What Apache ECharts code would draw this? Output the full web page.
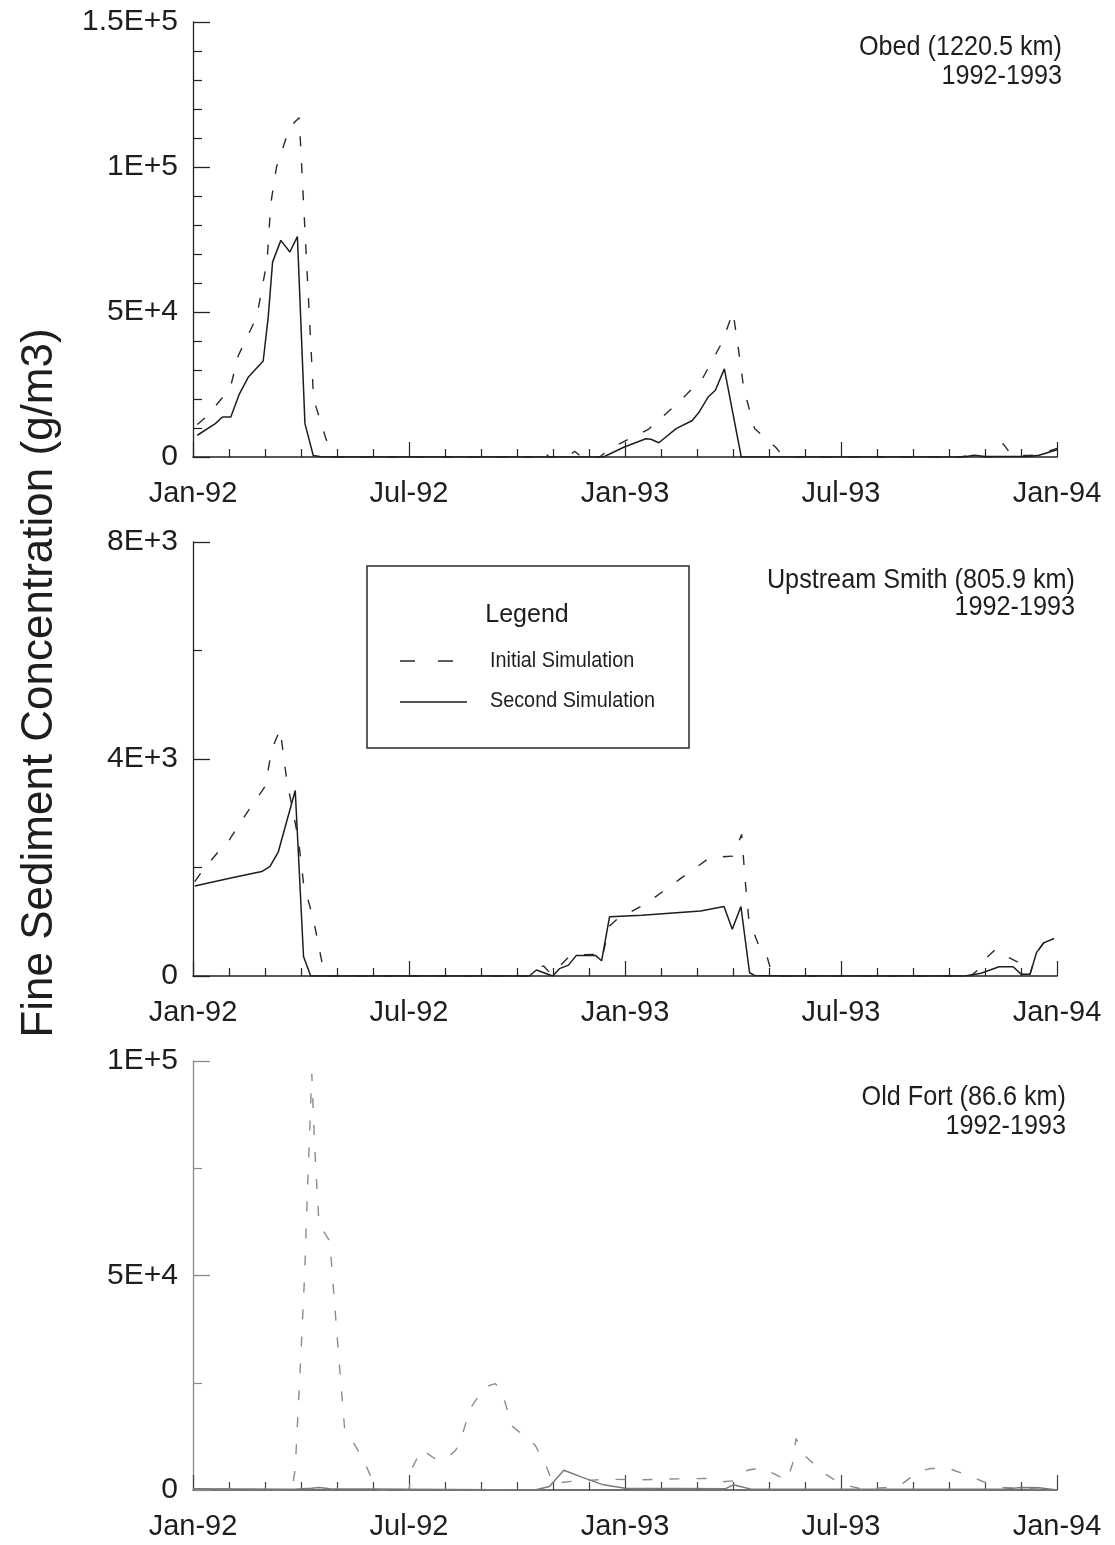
<!DOCTYPE html>
<html>
<head>
<meta charset="utf-8">
<script src="https://cdn.jsdelivr.net/npm/echarts@6/dist/echarts.min.js"></script>
<style>
html,body{margin:0;padding:0;background:#fff;}
#chart{width:1115px;height:1545px;}
</style>
</head>
<body>
<div id="chart"></div>
<script>
// x values are months since Jan-92 (0 = Jan-92, 24 = Jan-94)
var xTickValues = [0, 6, 12, 18, 24];
var xTickLabels = ['Jan-92', 'Jul-92', 'Jan-93', 'Jul-93', 'Jan-94'];

var obedYTicks = [0, 50000, 100000, 150000];
var obedYLabels = ['0', '5E+4', '1E+5', '1.5E+5'];
var smithYTicks = [0, 4000, 8000];
var smithYLabels = ['0', '4E+3', '8E+3'];
var fortYTicks = [0, 50000, 100000];
var fortYLabels = ['0', '5E+4', '1E+5'];

var seriesNames = ['Initial Simulation', 'Second Simulation'];
var panelTitles = ['Obed (1220.5 km)', 'Upstream Smith (805.9 km)', 'Old Fort (86.6 km)'];
var panelPeriod = '1992-1993';

// Obed (1220.5 km)
var obedInitial = [[0.12,11200],[0.38,14000],[1.03,23600],[1.26,35000],[1.77,48300],[2.06,67800],[2.16,87300],[2.32,100000],[2.69,113800],[2.95,117000],[3.35,20000],[3.7,6000],[3.95,0],[9.5,0],[9.7,2000],[9.9,0],[10.4,0],[10.6,2000],[10.8,0],[11.3,0],[11.6,3100],[11.95,5200],[12.65,9500],[13.45,18400],[14.15,27000],[14.7,39600],[15.0,50000],[15.15,37300],[15.3,23500],[15.6,9800],[16.2,3200],[16.4,0],[21.3,0],[21.6,600],[22.0,0],[22.3,0],[22.5,4600],[22.75,500],[23.2,500],[23.5,800],[24,3000]];
var obedSecond = [[0.12,7500],[0.62,11500],[0.82,13800],[1.05,13800],[1.29,21800],[1.54,27600],[1.95,33100],[2.09,48300],[2.21,67200],[2.44,74700],[2.69,70700],[2.9,76000],[3.11,11500],[3.34,500],[3.6,0],[11.4,0],[11.98,3450],[12.58,6300],[12.72,6100],[12.94,4900],[13.42,9800],[13.87,12600],[14.06,15500],[14.31,20700],[14.51,23000],[14.76,30400],[15.23,0],[21.4,0],[21.7,600],[22.0,200],[23.2,200],[23.5,600],[24,2500]];

// Upstream Smith (805.9 km)
var smithInitial = [[0.05,1740],[0.28,1955],[0.74,2320],[0.98,2480],[1.4,2910],[1.58,3090],[2.0,3490],[2.19,4170],[2.42,4550],[2.6,3630],[2.93,2510],[3.07,1710],[3.35,1030],[3.58,260],[3.72,0],[9.3,0],[9.44,110],[9.74,185],[9.95,30],[10.28,245],[10.48,380],[11.18,400],[11.35,300],[11.57,920],[11.77,1040],[12.62,1350],[13.51,1780],[14.35,2180],[14.99,2210],[15.24,2610],[15.34,1750],[15.44,1040],[15.79,430],[15.94,370],[16.1,0],[21.6,0],[21.8,110],[21.95,280],[22.29,490],[22.39,430],[22.93,250],[23.13,60],[23.25,30],[23.43,430],[23.63,610],[23.92,690]];
var smithSecond = [[0.05,1660],[1.02,1800],[1.91,1925],[2.14,2020],[2.37,2290],[2.84,3420],[3.07,360],[3.27,0],[9.34,0],[9.54,110],[9.99,0],[10.18,135],[10.43,200],[10.65,380],[11.18,380],[11.35,280],[11.57,1090],[12.47,1120],[14.1,1200],[14.75,1280],[14.98,860],[15.22,1280],[15.46,60],[15.6,10],[16.5,0],[21.44,0],[21.89,50],[22.39,170],[22.78,170],[23.01,30],[23.25,30],[23.43,430],[23.63,610],[23.92,690]];

// Old Fort (86.6 km)
var fortInitial = [[0,300],[2.75,0],[2.84,5000],[3.0,32000],[3.1,50000],[3.18,70000],[3.3,97000],[3.38,80000],[3.5,62000],[3.8,58000],[4.03,33000],[4.21,14500],[4.74,7000],[5.1,0],[6.0,0],[6.08,5000],[6.35,9500],[6.7,7400],[7.0,7000],[7.3,9300],[7.45,12000],[7.7,19000],[8.1,24000],[8.4,24800],[8.6,22500],[8.85,15000],[9.5,10500],[9.8,5800],[10.0,1500],[10.5,2000],[11.5,2500],[12.5,2400],[13.5,2600],[14.3,2700],[14.7,1900],[15.1,2200],[15.4,4600],[15.8,5200],[16.2,3500],[16.5,2200],[16.65,6000],[16.75,12000],[17.0,8000],[17.5,4000],[17.8,2500],[18.2,1000],[18.6,200],[19.6,800],[19.9,2700],[20.1,4300],[20.5,5000],[21.0,5000],[21.5,3500],[22.0,1800],[22.5,600],[23.5,200],[24,0]];
var fortSecond = [[0,300],[2.8,200],[3.3,400],[3.5,600],[3.8,300],[9.5,0],[9.9,800],[10.3,4600],[10.8,3000],[11.4,1200],[12.0,400],[14.8,300],[15.0,1200],[15.2,800],[15.5,200],[22.5,200],[23.0,600],[23.5,500],[24,0]];

var FONT = '"Liberation Sans", Arial, sans-serif';
var INK = '#1e1e1e';

function lookup(values, labels) {
  return function (v) {
    for (var i = 0; i < values.length; i++) {
      if (Math.abs(values[i] - v) < 1e-6) return labels[i];
    }
    return '';
  };
}

var grids = [
  {left: 193, top: 22, width: 864, height: 435},
  {left: 193, top: 542, width: 864, height: 434},
  {left: 193, top: 1061, width: 864, height: 429}
];

function makeX(i, color) {
  return {
    type: 'value', gridIndex: i, min: 0, max: 24, interval: 6,
    axisLine: {show: true, onZero: false, lineStyle: {color: color, width: 1.6}},
    axisTick: {show: true, inside: true, length: 15, lineStyle: {color: color, width: 1.2}},
    minorTick: {show: true, splitNumber: 6, length: 8, lineStyle: {color: color, width: 1.2}},
    splitLine: {show: false}, minorSplitLine: {show: false},
    axisLabel: {formatter: lookup(xTickValues, xTickLabels), fontFamily: FONT, fontSize: 29, color: INK, margin: 22, showMinLabel: true, showMaxLabel: true}
  };
}
function makeY(i, max, interval, split, ticks, labels, color) {
  return {
    type: 'value', gridIndex: i, min: 0, max: max, interval: interval,
    axisLine: {show: true, onZero: false, lineStyle: {color: color, width: 1.3}},
    axisTick: {show: true, inside: true, length: 17, lineStyle: {color: color, width: 1.3}},
    minorTick: {show: true, splitNumber: split, length: 9, lineStyle: {color: color, width: 1.2}},
    splitLine: {show: false}, minorSplitLine: {show: false},
    axisLabel: {formatter: lookup(ticks, labels), fontFamily: FONT, fontSize: 30, color: INK, margin: 15}
  };
}

function line(name, data, i, dashed, color, width) {
  return {
    name: name, type: 'line', xAxisIndex: i, yAxisIndex: i, data: data,
    showSymbol: false, symbol: 'none', smooth: false, animation: false,
    lineStyle: {color: color, width: width, type: dashed ? [10, 17] : 'solid'},
    z: dashed ? 3 : 4
  };
}

function titleText(txt, x, y) {
  return {
    type: 'text', x: x, y: y, scaleX: 0.9,
    style: {text: txt, font: '28px ' + FONT, fill: INK, textAlign: 'right', textVerticalAlign: 'middle'}
  };
}

var chart = echarts.init(document.getElementById('chart'), null, {renderer: 'canvas'});
chart.setOption({
  backgroundColor: '#ffffff',
  animation: false,
  grid: grids,
  xAxis: [makeX(0, '#222'), makeX(1, '#222'), makeX(2, '#444')],
  yAxis: [
    makeY(0, 150000, 50000, 5, obedYTicks, obedYLabels, '#222'),
    makeY(1, 8000, 4000, 2, smithYTicks, smithYLabels, '#222'),
    makeY(2, 100000, 50000, 2, fortYTicks, fortYLabels, '#8a8a8a')
  ],
  series: [
    line(seriesNames[0], obedInitial, 0, true, '#2a2a2a', 1.4),
    line(seriesNames[1], obedSecond, 0, false, '#1e1e1e', 1.5),
    line(seriesNames[0], smithInitial, 1, true, '#2a2a2a', 1.4),
    line(seriesNames[1], smithSecond, 1, false, '#1e1e1e', 1.5),
    line(seriesNames[0], fortInitial, 2, true, '#8c8c8c', 1.4),
    line(seriesNames[1], fortSecond, 2, false, '#7a7a7a', 1.5)
  ],
  graphic: [
    titleText(panelTitles[0], 1062, 47),
    titleText(panelPeriod, 1062, 76),
    titleText(panelTitles[1], 1075, 580),
    titleText(panelPeriod, 1075, 607),
    titleText(panelTitles[2], 1066, 1097),
    titleText(panelPeriod, 1066, 1126),
    {
      type: 'text', x: 40, y: 683, rotation: Math.PI / 2,
      style: {text: 'Fine Sediment Concentration (g/m3)', font: '44px ' + FONT, fill: INK, textAlign: 'center', textVerticalAlign: 'middle'}
    },
    {
      type: 'rect', shape: {x: 367, y: 566, width: 322, height: 182},
      style: {fill: 'rgba(0,0,0,0)', stroke: '#2a2a2a', lineWidth: 1.5}
    },
    {
      type: 'text', x: 527, y: 615,
      style: {text: 'Legend', font: '25px ' + FONT, fill: INK, textAlign: 'center', textVerticalAlign: 'middle'}
    },
    {
      type: 'line', shape: {x1: 400, y1: 661, x2: 455, y2: 661},
      style: {stroke: '#2a2a2a', lineWidth: 1.4, lineDash: [15, 23]}
    },
    {
      type: 'line', shape: {x1: 400, y1: 702, x2: 467, y2: 702},
      style: {stroke: '#1e1e1e', lineWidth: 1.5}
    },
    {
      type: 'text', x: 490, y: 661, scaleX: 0.9,
      style: {text: seriesNames[0], font: '22px ' + FONT, fill: INK, textAlign: 'left', textVerticalAlign: 'middle'}
    },
    {
      type: 'text', x: 490, y: 701, scaleX: 0.9,
      style: {text: seriesNames[1], font: '22px ' + FONT, fill: INK, textAlign: 'left', textVerticalAlign: 'middle'}
    }
  ]
});
</script>
</body>
</html>
